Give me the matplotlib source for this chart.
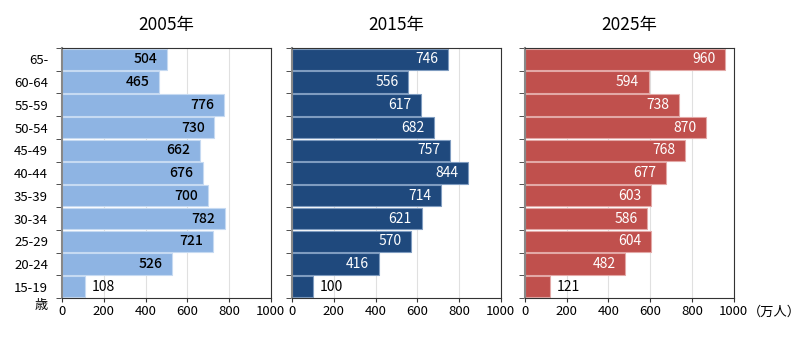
import numpy as np
import matplotlib
matplotlib.use("Agg")
from matplotlib import pyplot as plt
from matplotlib.ticker import FixedLocator

plt.rcParams['font.family'] = ['Noto Sans CJK JP', 'DejaVu Sans']

ages = ["65-", "60-64", "55-59", "50-54", "45-49", "40-44",
        "35-39", "30-34", "25-29", "20-24", "15-19"]
years = ["2005年", "2015年", "2025年"]
pop_2005 = [504, 465, 776, 730, 662, 676, 700, 782, 721, 526, 108]
pop_2015 = [746, 556, 617, 682, 757, 844, 714, 621, 570, 416, 100]
pop_2025 = [960, 594, 738, 870, 768, 677, 603, 586, 604, 482, 121]
series = [pop_2005, pop_2015, pop_2025]

colors = ["#8EB4E3", "#1F497D", "#C0504D"]
edges = ["#C6DAF2", "#7F9CC0", "#E3A8A6"]
label_colors = ["black", "white", "white"]
lefts = [0.0775, 0.365, 0.656]

fig = plt.figure(figsize=(8, 3.43), dpi=100)

y = np.arange(len(ages))[::-1]
for i, (vals, left) in enumerate(zip(series, lefts)):
    ax = fig.add_axes([left, 0.131, 0.261, 0.729])
    ax.barh(y, vals, height=0.94, color=colors[i], edgecolor=edges[i], linewidth=0.8, zorder=2)
    ax.set_xlim(0, 1000)
    ax.set_ylim(-0.5, len(ages) - 0.5)
    ax.set_xticks([0, 200, 400, 600, 800, 1000])
    ax.grid(axis='x', color='#E0E0E0', linewidth=0.8, zorder=0)
    ax.set_title(years[i], fontsize=12.5, pad=13)
    for s in ax.spines.values():
        s.set_color('#333333')
    ax.spines['left'].set_color('#888888')
    ax.spines['left'].set_linewidth(1.5)

    ax.set_yticks(y)
    ax.yaxis.set_minor_locator(FixedLocator(np.arange(len(ages) + 1) - 0.5))
    ax.tick_params(axis='y', which='major', length=0, pad=10)
    ax.tick_params(axis='y', which='minor', length=4, color='#333333')
    ax.tick_params(axis='x', length=3, labelsize=9.5, color='#333333', pad=2)
    if i == 0:
        ax.set_yticklabels(ages, fontsize=9.5)
    else:
        ax.set_yticklabels([])

    for yy, v in zip(y, vals):
        if v < 200:
            ax.annotate(str(v), (v, yy), xytext=(5, 0), textcoords='offset points',
                        ha='left', va='center', fontsize=10, color='black')
        else:
            ax.annotate(str(v), (v, yy), xytext=(-7, 0), textcoords='offset points',
                        ha='right', va='center', fontsize=10, color=label_colors[i],
                        fontweight='medium' if i == 0 else 'normal')

    if i == 0:
        ax.text(-0.07, -0.005, "歳", transform=ax.transAxes, ha='right', va='top', fontsize=9.5)
    if i == 2:
        ax.annotate("（万人）", (1000, 0), xycoords=('data', 'axes fraction'),
                    xytext=(10, -5.5), textcoords='offset points',
                    ha='left', va='top', fontsize=9.5)

fig.savefig("out.png", dpi=100)
